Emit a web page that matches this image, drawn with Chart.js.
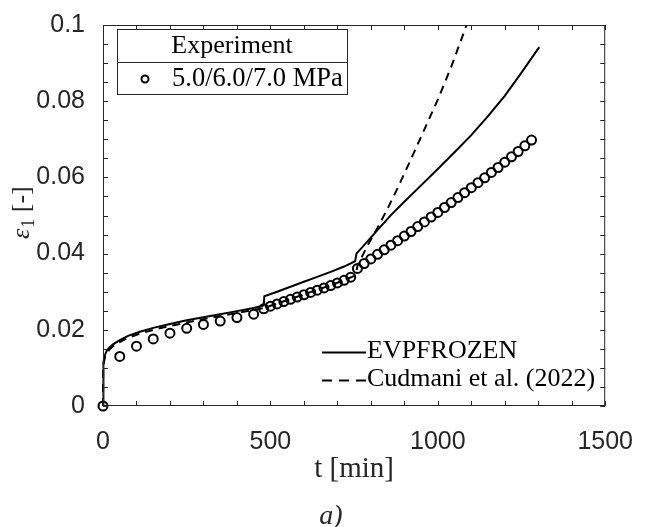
<!DOCTYPE html>
<html>
<head>
<meta charset="utf-8">
<script src="https://cdn.jsdelivr.net/npm/chart.js@4.4.1/dist/chart.umd.min.js"></script>
<style>
  html, body { margin: 0; padding: 0; background: #fff; }
  #wrap { width: 646px; height: 527px; position: relative; }
</style>
</head>
<body>
<div id="wrap"><canvas id="strainChart"></canvas></div>
<script>
// Datos
const expTime = [0, 50, 100, 150, 200, 250, 300, 350, 400, 450,
    480, 500, 520, 540, 560, 580, 600, 620, 640, 660, 680, 700, 720, 740,
    760, 780, 800, 820, 840, 860, 880, 900, 920, 940, 960, 980, 1000,
    1020, 1040, 1060, 1080, 1100, 1120, 1140, 1160, 1180, 1200, 1220, 1240, 1260, 1280];
const expStrain = [0, 0.0130, 0.0157, 0.0176, 0.0191, 0.0204, 0.0214, 0.0223, 0.0232, 0.0241,
    0.0255, 0.0262, 0.0268, 0.0274, 0.0280, 0.0286, 0.0292, 0.0298, 0.0304, 0.0310, 0.0316, 0.0323, 0.0330, 0.0338,
    0.0361, 0.0374, 0.0386, 0.0398, 0.0410, 0.0422, 0.0434, 0.0446, 0.0458, 0.0471, 0.0483, 0.0496, 0.0508,
    0.0521, 0.0534, 0.0547, 0.0560, 0.0573, 0.0586, 0.0599, 0.0613, 0.0626, 0.0640, 0.0654, 0.0668, 0.0683, 0.0698];

const evpTime = [0, 0.5, 2, 4, 7, 12, 20, 30, 50, 75, 110, 150, 200, 250, 300, 350, 400, 450, 480,
    482, 520, 560, 600, 640, 680, 720, 753,
    757, 790, 821, 860, 900, 950, 1000, 1050, 1100, 1150, 1200, 1250, 1303];
const evpStrain = [0, 0.0100, 0.0115, 0.0127, 0.0137, 0.0146, 0.0154, 0.0162, 0.0173, 0.0184, 0.0195, 0.0205, 0.0215, 0.0225, 0.0233, 0.0241, 0.0249, 0.0257, 0.0264,
    0.0288, 0.0300, 0.0313, 0.0326, 0.0339, 0.0352, 0.0366, 0.0380,
    0.0400, 0.0432, 0.0463, 0.0501, 0.0536, 0.0579, 0.0622, 0.0666, 0.0711, 0.0761, 0.0814, 0.0875, 0.0942];

const cudTime = [0, 0.5, 2, 4, 7, 12, 20, 30, 50, 75, 110, 150, 200, 250, 300, 350, 400, 450, 480,
    520, 560, 600, 640, 680, 720, 755,
    760, 787, 820, 850, 880, 920, 960, 1000, 1040, 1086];
const cudStrain = [0, 0.0095, 0.0110, 0.0121, 0.0131, 0.0140, 0.0149, 0.0157, 0.0168, 0.0179, 0.0190, 0.0200, 0.0210, 0.0219, 0.0228, 0.0236, 0.0244, 0.0252, 0.0257,
    0.0269, 0.0281, 0.0293, 0.0305, 0.0317, 0.0330, 0.0343,
    0.0368, 0.0416, 0.0468, 0.0518, 0.0572, 0.0648, 0.0726, 0.0804, 0.0890, 0.1000];

const xTickLabels = ['0', '500', '1000', '1500'];
const yTickLabels = ['0', '0.02', '0.04', '0.06', '0.08', '0.1'];

const toXY = (xs, ys) => xs.map((x, i) => ({ x: x, y: ys[i] }));

const AXIS_COLOR = '#262626';
const SERIF = '"Liberation Serif", "DejaVu Serif", serif';
const SANS = '"Liberation Sans", Arial, sans-serif';

// Marco, marcas, leyendas y titulos de ejes
const framePlugin = {
    id: 'frame',
    afterDatasetsDraw(chart) {
        const ctx = chart.ctx;
        const a = chart.chartArea;
        const xs = chart.scales.x;
        const ys = chart.scales.y;
        ctx.save();

        // caja
        ctx.strokeStyle = AXIS_COLOR;
        ctx.lineWidth = 1;
        ctx.strokeRect(a.left + 0.5, a.top + 0.5, a.right - a.left - 1, a.bottom - a.top - 1);

        // marcas hacia dentro
        ctx.beginPath();
        for (let t = 0; t <= 1500; t += 100) {
            const px = Math.round(xs.getPixelForValue(t)) + 0.5;
            ctx.moveTo(px, a.bottom); ctx.lineTo(px, a.bottom - 5);
            ctx.moveTo(px, a.top); ctx.lineTo(px, a.top + 5);
        }
        for (let k = 0; k <= 20; k++) {
            const py = Math.round(ys.getPixelForValue(k * 0.005)) + 0.5;
            ctx.moveTo(a.left, py); ctx.lineTo(a.left + 5, py);
            ctx.moveTo(a.right, py); ctx.lineTo(a.right - 5, py);
        }
        ctx.stroke();

        // leyenda experimento
        const bx = 117, by = 29, bw = 230, bh = 65;
        ctx.fillStyle = '#fff';
        ctx.fillRect(bx, by, bw, bh);
        ctx.strokeStyle = AXIS_COLOR;
        ctx.strokeRect(bx + 0.5, by + 0.5, bw, bh);
        ctx.beginPath();
        ctx.moveTo(bx, 62.5); ctx.lineTo(bx + bw, 62.5);
        ctx.stroke();
        ctx.fillStyle = '#000';
        ctx.font = '26px ' + SERIF;
        ctx.textBaseline = 'middle';
        ctx.textAlign = 'center';
        ctx.fillText('Experiment', bx + bw / 2, 46);
        ctx.textAlign = 'left';
        ctx.font = '26.5px ' + SERIF;
        ctx.fillText('5.0/6.0/7.0 MPa', 172, 79);
        ctx.beginPath();
        ctx.strokeStyle = '#000';
        ctx.lineWidth = 2;
        ctx.arc(145, 79, 3.5, 0, Math.PI * 2);
        ctx.stroke();

        // leyenda modelos
        ctx.lineWidth = 2;
        ctx.beginPath();
        ctx.moveTo(322, 352.5); ctx.lineTo(366, 352.5);
        ctx.stroke();
        ctx.setLineDash([10, 7]);
        ctx.beginPath();
        ctx.moveTo(322, 380.5); ctx.lineTo(366, 380.5);
        ctx.stroke();
        ctx.setLineDash([]);
        ctx.font = '26px ' + SERIF;
        ctx.fillText('EVPFROZEN', 367, 351);
        ctx.fillText('Cudmani et al. (2022)', 367, 379);

        // titulo eje x
        ctx.fillStyle = AXIS_COLOR;
        ctx.textAlign = 'center';
        ctx.font = '29px ' + SERIF;
        ctx.fillText('t [min]', (a.left + a.right) / 2, 469);

        // etiqueta de la figura
        ctx.font = 'italic 28px ' + SERIF;
        ctx.fillText('a)', 331, 517);

        // titulo eje y
        ctx.save();
        ctx.translate(29, 239);
        ctx.rotate(-Math.PI / 2);
        ctx.textAlign = 'left';
        ctx.textBaseline = 'alphabetic';
        ctx.font = 'italic 26px ' + SERIF;
        ctx.fillText('ε', 0, 0);
        let w = ctx.measureText('ε').width + 1;
        ctx.font = '18px ' + SERIF;
        ctx.fillText('1', w, 5);
        w += ctx.measureText('1').width;
        ctx.font = '26px ' + SERIF;
        ctx.fillText(' [-]', w, 0);
        ctx.restore();

        ctx.restore();
    }
};

const chartCtx = document.getElementById('strainChart').getContext('2d');
const strainChart = new Chart(chartCtx, {
    type: 'scatter',
    data: {
        datasets: [{
            label: '5.0/6.0/7.0 MPa',
            data: toXY(expTime, expStrain),
            showLine: false,
            pointRadius: 4.5,
            pointBorderWidth: 2,
            pointBorderColor: '#000',
            pointBackgroundColor: 'rgba(0,0,0,0)',
            clip: false
        }, {
            label: 'EVPFROZEN',
            data: toXY(evpTime, evpStrain),
            showLine: true,
            borderColor: '#000',
            borderWidth: 2,
            pointRadius: 0,
            tension: 0,
            clip: { left: 3, top: 0, right: 3, bottom: 3 }
        }, {
            label: 'Cudmani et al. (2022)',
            data: toXY(cudTime, cudStrain),
            showLine: true,
            borderColor: '#000',
            borderWidth: 2,
            borderDash: [8, 6],
            pointRadius: 0,
            tension: 0,
            clip: { left: 3, top: 0, right: 3, bottom: 3 }
        }]
    },
    options: {
        animation: false,
        responsive: true,
        maintainAspectRatio: false,
        layout: { padding: { top: 15, right: 30, left: 0, bottom: 0 } },
        plugins: {
            legend: { display: false },
            tooltip: { enabled: false }
        },
        scales: {
            x: {
                type: 'linear',
                min: 0,
                max: 1500,
                grid: { display: false },
                border: { display: false },
                ticks: {
                    stepSize: 500,
                    autoSkip: false,
                    maxRotation: 0,
                    padding: 13,
                    color: AXIS_COLOR,
                    font: { family: SANS, size: 25 },
                    callback: v => xTickLabels[Math.round(v / 500)]
                },
                afterFit: s => { s.height = 121; }
            },
            y: {
                type: 'linear',
                min: 0,
                max: 0.1,
                grid: { display: false },
                border: { display: false },
                ticks: {
                    stepSize: 0.02,
                    autoSkip: false,
                    padding: 10,
                    color: AXIS_COLOR,
                    font: { family: SANS, size: 25 },
                    callback: v => yTickLabels[Math.round(v / 0.02)]
                },
                afterFit: s => { s.width = 103; }
            }
        }
    },
    plugins: [framePlugin]
});
</script>
</body>
</html>
